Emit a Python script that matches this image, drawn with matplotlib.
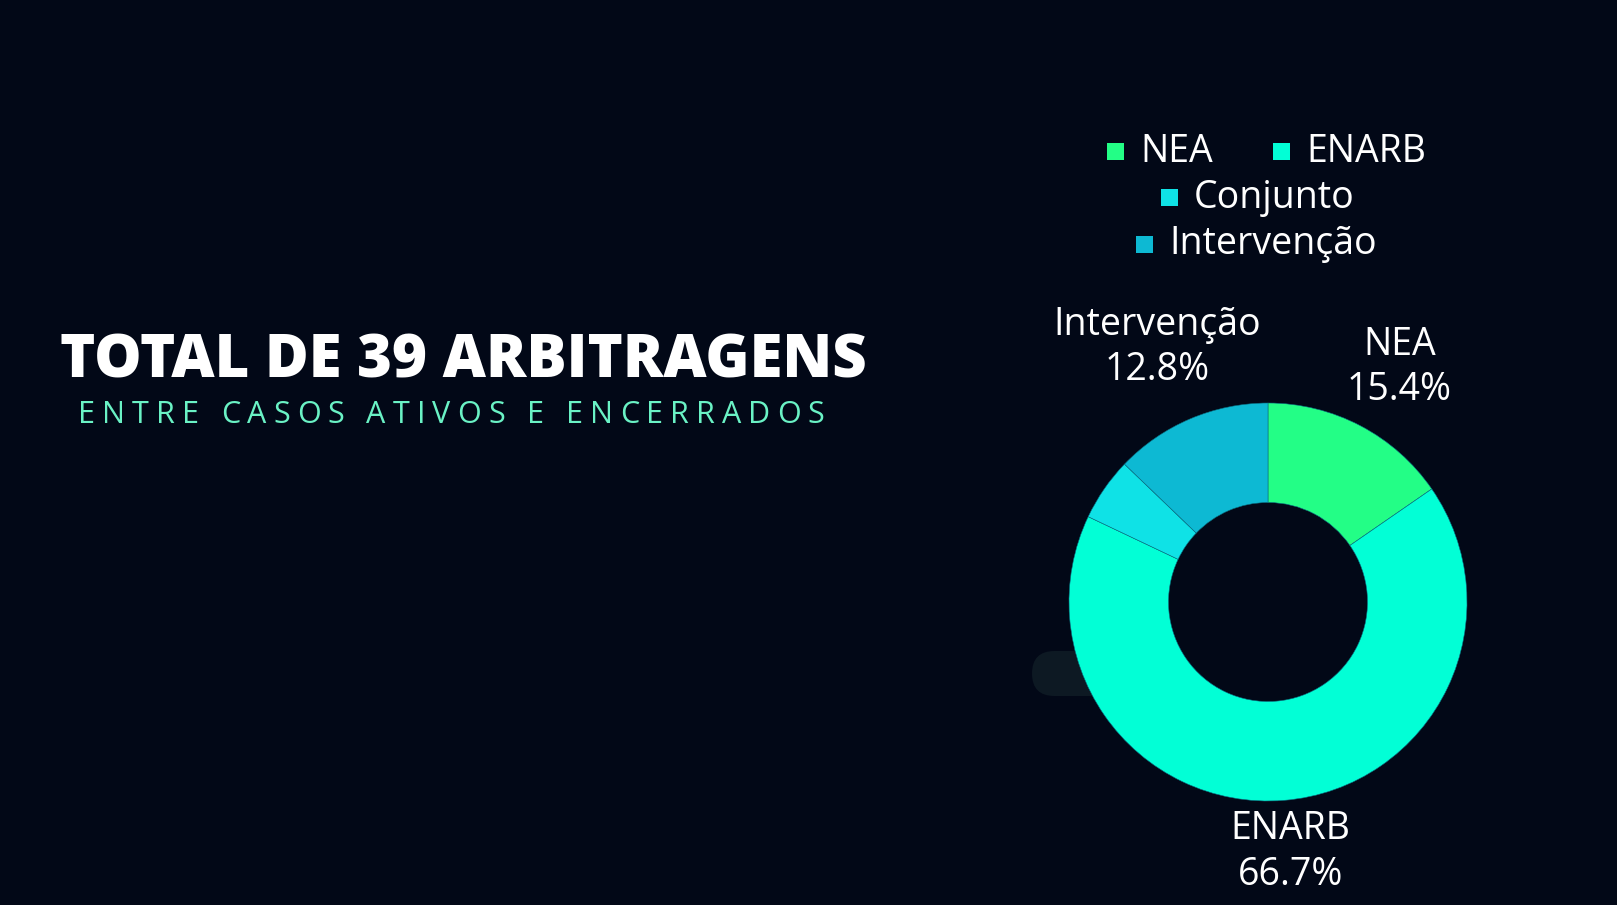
import numpy as np
import matplotlib.pyplot as plt
from matplotlib.patches import FancyBboxPatch, Rectangle

# dados
categorias = ["NEA", "ENARB", "Conjunto", "Intervenção"]
casos = [6, 26, 2, 5]
cores = ["#23fe86", "#02ffd6", "#0fe2e6", "#0db9d3"]
mostrar_rotulo = [True, True, False, True]
titulo = "TOTAL DE 39 ARBITRAGENS"
subtitulo = "ENTRE CASOS ATIVOS E ENCERRADOS"

fundo = "#020817"
W, H = 1617, 905
fig = plt.figure(figsize=(W / 100, H / 100), dpi=100, facecolor=fundo)

# fundo em pixels (pilula escura atras do donut)
back = fig.add_axes([0, 0, 1, 1])
back.set_xlim(0, W)
back.set_ylim(H, 0)
back.axis("off")
back.set_zorder(1)
back.add_patch(FancyBboxPatch((1032, 651), 140, 45, boxstyle="round,pad=0,rounding_size=22.5",
                              fc="#0d1923", ec="none"))

# camada em pixels para textos e legenda
over = fig.add_axes([0, 0, 1, 1])
over.set_xlim(0, W)
over.set_ylim(H, 0)
over.axis("off")
over.set_zorder(3)

# donut
cx, cy, r = 1268, 602, 199
ax = fig.add_axes([(cx - 1.6 * r) / W, 0, 3.2 * r / W, (H - (cy - 1.6 * r)) / H])
ax.set_zorder(2)
ax.patch.set_alpha(0)
wedges, _ = ax.pie(casos, colors=cores, startangle=90, counterclock=False,
                   wedgeprops=dict(width=0.5, edgecolor="#0a6d80", linewidth=0.4))
ax.set_xlim(-1.6, 1.6)
ax.set_ylim(-(H - cy) / r, 1.6)
ax.set_aspect("auto")

total = sum(casos)
fonte = "Open Sans"
for w, nome, n, ok in zip(wedges, categorias, casos, mostrar_rotulo):
    if not ok:
        continue
    ang = np.deg2rad((w.theta1 + w.theta2) / 2)
    c, s = np.cos(ang), np.sin(ang)
    x = 1.42 * c
    if s > 0:
        y, va = (1.13 - 0.08 * c) * s, "bottom"
    else:
        y, va = 1.05 * s, "top"
    ax.text(x, y, f"{nome}\n{n / total * 100:.1f}%", ha="center", va=va, color="white",
            fontsize=27, family=fonte, linespacing=1.25)

# legenda
leg = [(1115, 152), (1281, 152), (1169, 198), (1144, 244)]
for (lx, ly), nome, c in zip(leg, categorias, cores):
    over.add_patch(Rectangle((lx - 8.5, ly - 8.5), 17, 17, fc=c, ec="none"))
    over.text(lx + 25, ly, nome, color="white", fontsize=27, family=fonte,
              ha="left", va="center")

# titulo
over.text(60, 361, titulo, color="white", fontsize=43, family=fonte, weight="heavy",
          ha="left", va="center")

# subtitulo com espacamento entre letras
renderer = fig.canvas.get_renderer()
x0 = 78
for ch in subtitulo:
    if ch == " ":
        x0 += 15
        continue
    t = over.text(x0, 415, ch, color="#6af2c5", fontsize=22, family=fonte,
                  ha="left", va="center")
    bb = t.get_window_extent(renderer)
    x0 += bb.width + 7

fig.savefig("out.png", dpi=100, facecolor=fundo)
